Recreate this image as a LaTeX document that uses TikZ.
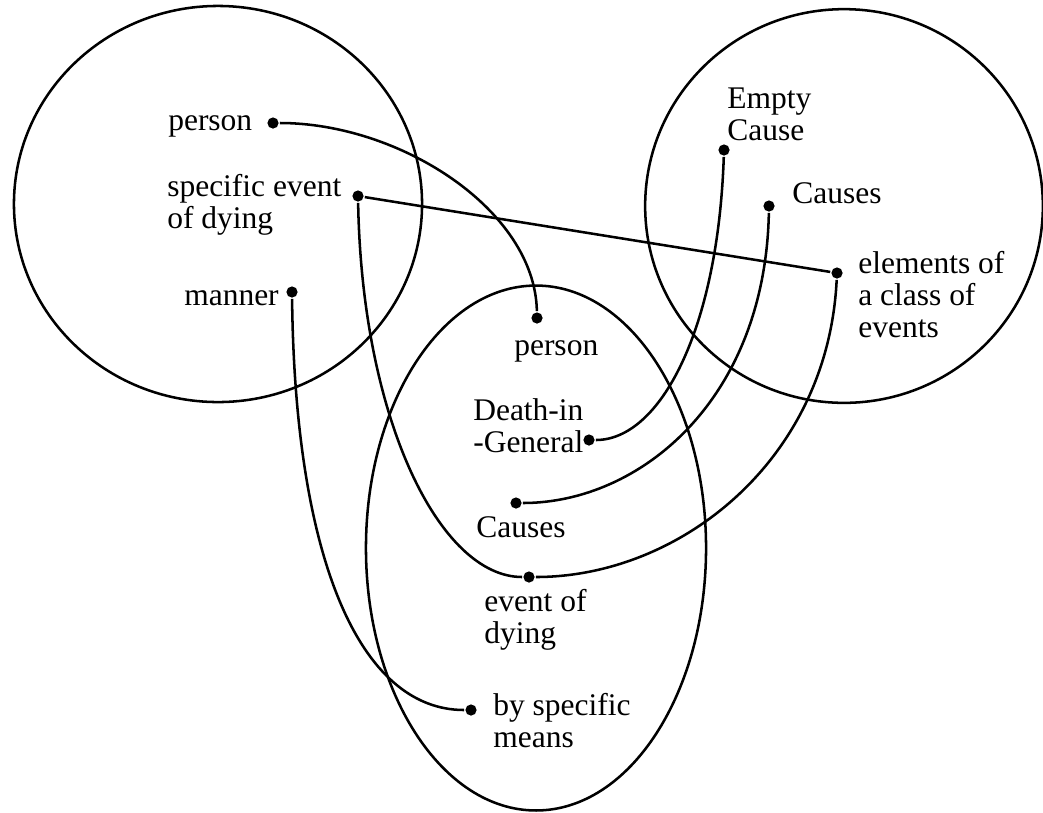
\documentclass[tikz,border=0pt]{standalone}
\usepackage{fontspec}
\setmainfont{Liberation Serif}
\usetikzlibrary{positioning}

\tikzset{
  spot/.style={circle, fill, inner sep=0pt, minimum size=0.28cm},
  term/.style={anchor=base west, align=left, inner sep=0pt, font=\fontsize{22.4pt}{22.6pt}\selectfont},
  link/.style={line width=1.8pt}
}

\begin{document}
\begin{tikzpicture}[x=0.025cm, y=-0.025cm, line width=1.8pt]
  \useasboundingbox (0,0) rectangle (1043,812);

  % the three frames
  \draw (218,204) ellipse [x radius=5.1cm, y radius=4.95cm];
  \draw (844,206) ellipse [x radius=4.97cm, y radius=4.92cm];
  \draw (536,548) ellipse [x radius=4.25cm, y radius=6.56cm];

  % left frame
  \node (personA) [spot] at (273,123) {};
  \node (eventA) [spot] at (358,196) {};
  \node (mannerA) [spot] at (292,292) {};
  \node (personA-txt) [term] at (167,130) {person};
  \node (eventA-txt) [term] at (166,228) {specific event\\of dying};
  \node (mannerA-txt) [term] at (183,305) {manner};

  % middle frame
  \node (personB) [spot] at (537,318) {};
  \node (deathB) [spot] at (589,440) {};
  \node (causesB) [spot] at (516,503) {};
  \node (dyingB) [spot] at (529,577) {};
  \node (meansB) [spot] at (471,710) {};
  \node (personB-txt) [term] at (513,355) {person};
  \node (deathB-txt) [term] at (472,452) {Death-in\\-General};
  \node (causesB-txt) [term] at (475,537) {Causes};
  \node (dyingB-txt) [term] at (483,643) {event of\\dying};
  \node (meansB-txt) [term] at (492,747) {by specific\\means};

  % right frame
  \node (emptyC) [spot] at (724,150) {};
  \node (causesC) [spot] at (769,206) {};
  \node (classC) [spot] at (837,273) {};
  \node (emptyC-txt) [term] at (726,140) {Empty\\Cause};
  \node (causesC-txt) [term] at (791,203) {Causes};
  \node (classC-txt) [term] at (857,337) {elements of\\a class of\\events};

  % connections
  \draw[link] (eventA) -- (classC);
  \draw[link] (personA) .. controls (400,123) and (535,210) .. (personB);
  \draw[link] (eventA) .. controls (362,420) and (440,577) .. (dyingB);
  \draw[link] (mannerA) .. controls (295,560) and (360,710) .. (meansB);
  \draw[link] (emptyC) .. controls (718,330) and (660,440) .. (deathB);
  \draw[link] (causesC) .. controls (765,400) and (640,503) .. (causesB);
  \draw[link] (classC) .. controls (828,460) and (680,577) .. (dyingB);
\end{tikzpicture}
\end{document}
